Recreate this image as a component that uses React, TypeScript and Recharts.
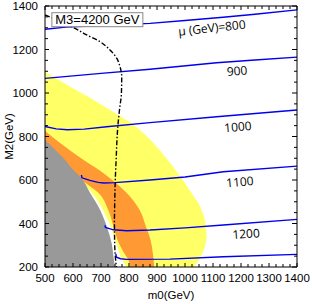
import { ComposedChart, Area, Line, XAxis, YAxis, ReferenceDot } from 'recharts'

// all pairs are [m0, M2] in GeV
const yellowEdge = [
  [1032, 200], [1050, 232], [1067, 278], [1077, 339], [1071, 416], [1048, 493], [1016, 554],
  [975, 631], [929, 707], [877, 784], [848, 820], [808, 861], [760, 900], [693, 953],
  [630, 1000], [563, 1050], [500, 1097],
]
const orangeEdge = [
  [890, 200], [885, 264], [877, 324], [861, 384], [838, 462], [792, 540], [740, 600],
  [693, 646], [638, 692], [554, 770], [500, 827],
]
const innerYellowEdge = [
  [804, 200], [798, 232], [780, 270], [764, 309], [745, 385], [726, 462], [692, 539], [630, 600], [610, 620],
]
const whiteEdge = [
  [792, 200], [776, 232], [755, 309], [735, 385], [707, 462], [668, 539], [650, 565],
]
const grayEdge = [
  [750, 200], [746, 232], [738, 309], [721, 385], [697, 462], [662, 539], [626, 615],
  [601, 646], [572, 692], [537, 738], [512, 770], [500, 784],
]

const muLevels = [800, 900, 1000, 1100, 1200, 1300]
const muLines = [
  [[500, 1293], [575, 1303], [700, 1310], [875, 1320], [1000, 1333], [1136, 1348], [1250, 1362], [1400, 1382]],
  [[500, 1067], [700, 1090], [875, 1109], [1113, 1139], [1250, 1152], [1400, 1165]],
  [[500, 846], [540, 835], [580, 831], [640, 834], [720, 845], [875, 864], [1113, 891], [1400, 922]],
  [[630, 623], [632, 610], [660, 598], [690, 589], [710, 586], [750, 588], [875, 600], [1000, 614], [1137, 638], [1400, 664]],
  [[714, 392], [716, 382], [744, 371], [792, 367], [875, 370], [1000, 380], [1137, 393], [1400, 419]],
  [[753, 260], [755, 245], [770, 238], [792, 235], [946, 236], [1137, 247], [1400, 258]],
]
// where each contour's label sits, [m0, M2, angle]
const muLabelSpots = [
  [1096, 1299, -6], [1186, 1101, -5], [1189, 844, -5], [1196, 591, -5], [1218, 352, -4],
]

const m3Line = [
  [500, 1359], [607, 1297], [649, 1267], [696, 1236], [732, 1198], [756, 1160], [768, 1121],
  [774, 1075], [773, 1000], [766, 922], [760, 845], [754, 692], [751, 600], [749, 500],
  [748, 400], [749, 300], [751, 250], [755, 200],
]

const xTicks = Array.from({ length: 37 }, (_, i) => 500 + i * 25)
const yTicks = Array.from({ length: 25 }, (_, i) => 200 + i * 50)

const toPts = (pairs: number[][]) => pairs.map(([m0, m2]) => ({ m0, m2 }))

const BottomTick = ({ x, y, payload }: any) => {
  const major = payload.value % 100 === 0
  return (
    <g>
      <line x1={x} x2={x} y1={y} y2={y - (major ? 4 : 3)} stroke="#000" />
      {major && (
        <text x={x} y={y + 15} textAnchor="middle" fontSize={11.5} fill="#000">
          {payload.value}
        </text>
      )}
    </g>
  )
}

const TopTick = ({ x, y, payload }: any) => {
  const major = payload.value % 100 === 0
  return <line x1={x} x2={x} y1={y} y2={y + (major ? 4 : 3)} stroke="#000" />
}

const LeftTick = ({ x, y, payload }: any) => {
  const major = payload.value % 200 === 0
  return (
    <g>
      <line x1={x} x2={x + (major ? 4 : 3)} y1={y} y2={y} stroke="#000" />
      {major && (
        <text x={x - 7} y={y} dy="0.35em" textAnchor="end" fontSize={11.5} fill="#000">
          {payload.value}
        </text>
      )}
    </g>
  )
}

const RightTick = ({ x, y, payload }: any) => {
  const major = payload.value % 200 === 0
  return <line x1={x} x2={x - (major ? 5 : 3)} y1={y} y2={y} stroke="#000" />
}

export default function App() {
  return (
    <div style={{ position: 'absolute', left: 0, top: 0, width: 312, height: 304, background: '#fff', fontFamily: '"Liberation Sans", Arial, sans-serif' }}>
      <ComposedChart width={312} height={304} layout="vertical" margin={{ top: 0, right: 0, bottom: 0, left: 0 }}>
        <Area data={toPts(yellowEdge)} dataKey="m0" type="monotone" fill="#ffff66" fillOpacity={1} stroke="none" baseValue="dataMin" isAnimationActive={false} />
        <Area data={toPts(orangeEdge)} dataKey="m0" type="monotone" fill="#ff9933" fillOpacity={1} stroke="none" baseValue="dataMin" isAnimationActive={false} />
        <Area data={toPts(innerYellowEdge)} dataKey="m0" type="monotone" fill="#ffff66" fillOpacity={1} stroke="none" baseValue="dataMin" isAnimationActive={false} />
        <Area data={toPts(whiteEdge)} dataKey="m0" type="monotone" fill="#ffffff" fillOpacity={1} stroke="none" baseValue="dataMin" isAnimationActive={false} />
        <Area data={toPts(grayEdge)} dataKey="m0" type="monotone" fill="#999999" fillOpacity={1} stroke="none" baseValue="dataMin" isAnimationActive={false} />

        {muLines.map((pts, i) => (
          <Line
            key={muLevels[i]}
            data={toPts(pts)}
            dataKey="m0"
            type="linear"
            stroke="#0000ee"
            strokeWidth={1.4}
            dot={false}
            activeDot={false}
            isAnimationActive={false}
          />
        ))}
        <Line
          data={toPts(m3Line)}
          dataKey="m0"
          type="monotone"
          stroke="#000"
          strokeWidth={1.4}
          strokeDasharray="5 2 1.5 2"
          dot={false}
          activeDot={false}
          isAnimationActive={false}
        />

        {muLabelSpots.map(([m0, m2, angle], i) => (
          <ReferenceDot
            key={`lab-${i}`}
            x={m0}
            y={m2}
            r={0}
            shape={({ cx, cy }: any) => (
              <text
                x={cx}
                y={cy}
                dy="0.35em"
                textAnchor="middle"
                fontSize={12}
                fontFamily='"Open Sans", sans-serif'
                fill="#000"
                transform={`rotate(${angle} ${cx} ${cy})`}
              >
                {i === 0 ? `μ (GeV)=${muLevels[i]}` : muLevels[i]}
              </text>
            )}
          />
        ))}
        <ReferenceDot
          x={687}
          y={1337}
          r={0}
          shape={({ cx, cy }: any) => (
            <g>
              <rect x={cx - 45.5} y={cy - 7} width={91} height={14} fill="#fff" stroke="#888" />
              <text x={cx} y={cy} dy="0.36em" textAnchor="middle" fontSize={13} fill="#000">
                M3=4200 GeV
              </text>
            </g>
          )}
        />

        <XAxis
          type="number"
          dataKey="m0"
          domain={[500, 1400]}
          allowDataOverflow
          ticks={xTicks}
          interval={0}
          height={37}
          tickSize={0}
          tickMargin={0}
          tickLine={false}
          tick={BottomTick}
          axisLine={{ stroke: '#000' }}
          label={{ value: 'm0(GeV)', position: 'insideBottom', offset: 5, fontSize: 11.5, fill: '#000' }}
        />
        <XAxis
          xAxisId="top"
          orientation="top"
          type="number"
          dataKey="m0"
          domain={[500, 1400]}
          allowDataOverflow
          ticks={xTicks}
          interval={0}
          height={6}
          tickSize={0}
          tickMargin={0}
          tickLine={false}
          tick={TopTick}
          axisLine={{ stroke: '#000' }}
        />
        <YAxis
          type="number"
          dataKey="m2"
          domain={[200, 1400]}
          allowDataOverflow
          reversed
          ticks={yTicks}
          interval={0}
          width={45}
          tickSize={0}
          tickMargin={0}
          tickLine={false}
          tick={LeftTick}
          axisLine={{ stroke: '#000' }}
          label={{ value: 'M2(GeV)', angle: -90, position: 'insideLeft', offset: 9, fontSize: 11.5, fill: '#000', style: { textAnchor: 'middle' } }}
        />
        <YAxis
          yAxisId="right"
          orientation="right"
          type="number"
          dataKey="m2"
          domain={[200, 1400]}
          allowDataOverflow
          reversed
          ticks={yTicks}
          interval={0}
          width={15}
          tickSize={0}
          tickMargin={0}
          tickLine={false}
          tick={RightTick}
          axisLine={{ stroke: '#000' }}
        />
      </ComposedChart>
    </div>
  )
}
